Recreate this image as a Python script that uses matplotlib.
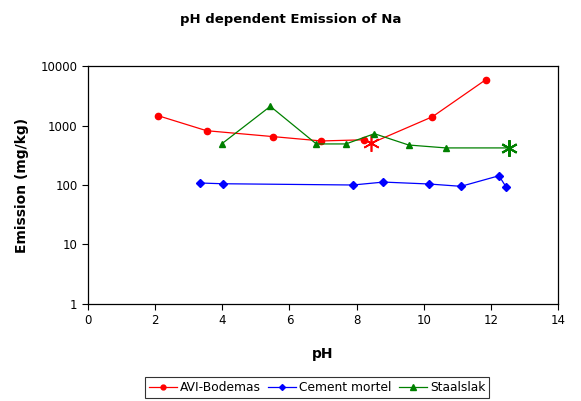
import matplotlib.pyplot as plt

# pH vs emission (mg/kg) per material
avi_ph = [2.09, 3.53, 5.52, 6.95, 8.22, 10.26, 11.85]
avi_em = [1460, 818, 650, 550, 575, 1405, 5900]
avi_star = (8.42, 500)

cem_ph = [3.34, 4.01, 7.89, 8.80, 10.15, 11.11, 12.24, 12.45]
cem_em = [108, 105, 100, 112, 104, 95, 143, 93]

sta_ph = [3.98, 5.43, 6.80, 7.68, 8.53, 9.55, 10.66]
sta_em = [490, 2100, 490, 490, 728, 470, 420]
sta_star = (12.55, 420)

fig = plt.figure(figsize=(5.81, 4.01), dpi=100)
ax = fig.add_axes([0.1515, 0.2419, 0.809, 0.5935])

# red line runs through the star point between 8.2 and 10.3
red_x = avi_ph[:5] + [avi_star[0]] + avi_ph[5:]
red_y = avi_em[:5] + [avi_star[1]] + avi_em[5:]
ax.plot(red_x, red_y, color="red", lw=0.9)
ax.plot(avi_ph, avi_em, "o", color="red", ms=4.5)
ax.plot(*avi_star, marker=(6, 2, 0), color="red", ms=12, mew=1.2)

ax.plot(cem_ph, cem_em, color="blue", lw=0.9, marker="D", ms=4)

ax.plot(sta_ph + [sta_star[0]], sta_em + [sta_star[1]], color="green", lw=0.9)
ax.plot(sta_ph, sta_em, "^", color="green", ms=5)
ax.plot(*sta_star, marker=(6, 2, 0), color="green", ms=12, mew=1.5)

ax.set_yscale("log")
ax.set_ylim(1, 10000)
ax.set_xlim(0, 14)
ax.set_xticks(range(0, 15, 2))
ax.set_yticks([1, 10, 100, 1000, 10000])
ax.set_yticklabels(["1", "10", "100", "1000", "10000"])
ax.minorticks_off()
ax.tick_params(labelsize=8.5, length=4, width=0.8)
for s in ax.spines.values():
    s.set_linewidth(0.9)

ax.set_xlabel("pH", fontsize=10, fontweight="bold", labelpad=14)
ax.set_ylabel("Emission (mg/kg)", fontsize=10, fontweight="bold", labelpad=8)
fig.text(0.5, 0.952, "pH dependent Emission of Na", ha="center", va="center",
         fontsize=9.5, fontweight="bold")

handles = [
    plt.Line2D([], [], color="red", marker="o", ms=3.5, lw=0.9),
    plt.Line2D([], [], color="blue", marker="D", ms=3, lw=0.9),
    plt.Line2D([], [], color="green", marker="^", ms=4, lw=0.9),
]
leg = fig.legend(handles, ["AVI-Bodemas", "Cement mortel", "Staalslak"],
                 loc="center", bbox_to_anchor=(0.546, 0.034), ncol=3,
                 fontsize=8.8, frameon=True, fancybox=False, handlelength=2.3,
                 borderpad=0.3, columnspacing=0.6, handletextpad=0.25,
                 borderaxespad=0)
leg.get_frame().set_edgecolor("black")
leg.get_frame().set_linewidth(0.8)

fig.savefig("out.png", dpi=100)
